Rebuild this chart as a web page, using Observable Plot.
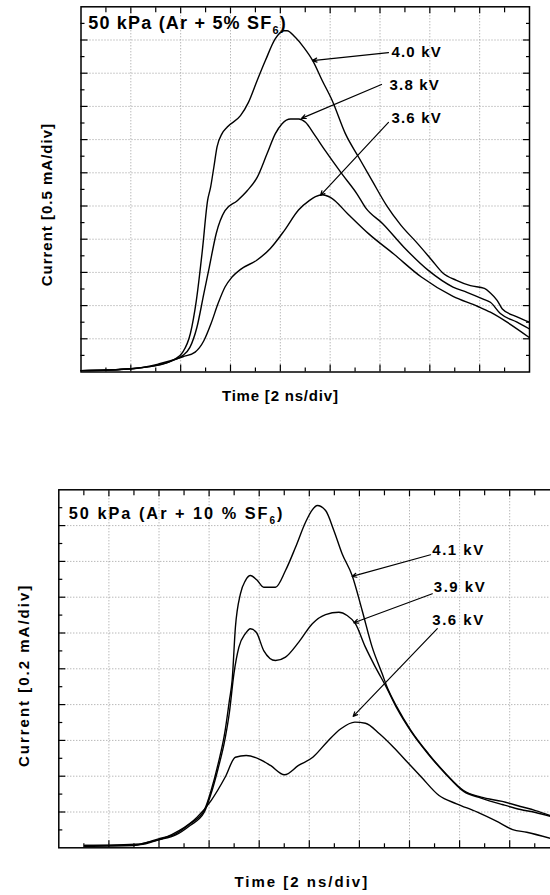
<!DOCTYPE html>
<html>
<head>
<meta charset="utf-8">
<script src="https://cdn.jsdelivr.net/npm/d3@7"></script>
<script src="https://cdn.jsdelivr.net/npm/@observablehq/plot@0.6"></script>
<style>
  html, body { margin: 0; padding: 0; background: #fff; }
  body { width: 550px; height: 895px; overflow: hidden; }
  #chart svg { display: block; }
  .sp1 text { letter-spacing: 1.2px; }
  .sp08 text { letter-spacing: 0.8px; }
  .sp1b text { letter-spacing: 1px; }
  .sp15 text { letter-spacing: 1.5px; }
  .sp2 text { letter-spacing: 2px; }
</style>
</head>
<body>
<div id="chart"></div>
<script>
// ---------- Top panel: 50 kPa (Ar + 5% SF6), time in ns (2 ns/div), current in mA (0.5 mA/div)
const top40Time = [0, 0.98, 1.99, 3.19, 3.79, 4.07, 4.39, 4.63, 4.87, 5.08, 5.20, 5.33, 5.46, 5.66, 5.87, 6.40, 6.72, 7.07, 7.40, 7.80, 8.14, 8.27, 8.60, 8.94, 9.30, 9.68, 10.08, 10.61, 11.15, 11.70, 12.26, 12.82, 13.52, 14.09, 14.50, 15.07, 15.63, 16.19, 16.43, 16.70, 16.91, 17.50, 17.99];
const top40Current = [0.02, 0.03, 0.05, 0.11, 0.20, 0.29, 0.58, 1.08, 1.83, 2.58, 2.78, 3.08, 3.39, 3.59, 3.69, 3.86, 4.06, 4.39, 4.69, 5.02, 5.14, 5.14, 5.04, 4.89, 4.69, 4.39, 4.09, 3.59, 3.23, 2.87, 2.51, 2.22, 1.93, 1.68, 1.50, 1.38, 1.30, 1.26, 1.19, 1.08, 0.95, 0.83, 0.75];
const top38Time = [0, 1.99, 3.19, 3.79, 4.09, 4.37, 4.65, 4.93, 5.15, 5.43, 5.78, 6.27, 6.67, 7.07, 7.47, 7.80, 8.07, 8.41, 8.74, 9.01, 9.34, 9.81, 10.48, 11.08, 11.41, 12.12, 12.96, 13.94, 14.93, 15.49, 16.19, 16.43, 16.83, 17.50, 17.99];
const top38Current = [0.02, 0.05, 0.11, 0.19, 0.25, 0.37, 0.67, 1.18, 1.58, 2.09, 2.43, 2.58, 2.73, 2.93, 3.29, 3.59, 3.74, 3.81, 3.81, 3.76, 3.59, 3.33, 2.98, 2.68, 2.48, 2.23, 1.88, 1.53, 1.28, 1.20, 1.09, 1.05, 0.88, 0.75, 0.65];
const top36Time = [0, 2.12, 3.11, 4.09, 4.58, 4.93, 5.22, 5.50, 5.78, 6.06, 6.42, 7.04, 7.60, 8.16, 8.73, 9.16, 9.41, 9.69, 10.01, 10.71, 11.55, 12.54, 13.66, 14.93, 15.91, 16.43, 17.10, 17.99];
const top36Current = [0.02, 0.05, 0.12, 0.23, 0.30, 0.47, 0.73, 1.03, 1.28, 1.43, 1.55, 1.68, 1.86, 2.13, 2.44, 2.58, 2.64, 2.67, 2.63, 2.38, 2.08, 1.78, 1.43, 1.14, 0.99, 0.90, 0.75, 0.52];

const topLabels = ["4.0 kV", "3.8 kV", "3.6 kV"];
const topLabelTime = [12.46, 12.38, 12.46];
const topLabelCurrent = [4.75, 4.25, 3.75];
const topArrowFromTime = [12.34, 12.06, 12.34];
const topArrowFromCurrent = [4.81, 4.33, 3.76];
const topArrowToTime = [9.29, 8.85, 9.61];
const topArrowToCurrent = [4.69, 3.82, 2.66];

const topTitle = "50 kPa (Ar + 5% SF6)";
const topTitleTime = [0.29];
const topTitleCurrent = [5.17];
const topXLabel = "Time [2 ns/div]";
const topXLabelTime = [8.0];
const topYLabel = "Current [0.5 mA/div]";
const topYLabelCurrent = [2.52];

const topTimeDomain = [0, 18];
const topCurrentDomain = [0, 5.5];
const topGridTime = [2, 4, 6, 8, 10, 12, 14, 16];
const topGridCurrent = [0.5, 1.0, 1.5, 2.0, 2.5, 3.0, 3.5, 4.0, 4.5, 5.0];
const topMinorTime = [1, 3, 5, 7, 9, 11, 13, 15, 17];
const topMinorCurrent = [0.25, 0.75, 1.25, 1.75, 2.25, 2.75, 3.25, 3.75, 4.25, 4.75, 5.25];

// ---------- Bottom panel: 50 kPa (Ar + 10 % SF6), time in ns (2 ns/div), current in mA (0.2 mA/div)
const bot41Time = [1.03, 3.26, 3.98, 4.67, 5.24, 5.80, 6.08, 6.36, 6.64, 6.81, 6.92, 7.05, 7.25, 7.45, 7.65, 7.89, 8.18, 8.65, 9.05, 9.45, 9.85, 10.12, 10.32, 10.65, 10.98, 11.31, 11.71, 12.11, 12.51, 12.91, 13.08, 13.50, 14.06, 14.76, 15.46, 16.16, 16.86, 17.70, 18.43, 19.03, 19.63];
const bot41Current = [0.013, 0.022, 0.050, 0.078, 0.134, 0.208, 0.320, 0.469, 0.655, 0.823, 0.935, 1.232, 1.419, 1.493, 1.521, 1.499, 1.456, 1.456, 1.549, 1.679, 1.819, 1.888, 1.912, 1.884, 1.773, 1.643, 1.521, 1.326, 1.121, 0.972, 0.907, 0.786, 0.655, 0.525, 0.413, 0.320, 0.283, 0.259, 0.231, 0.208, 0.180];
const bot39Time = [1.03, 3.26, 3.98, 4.67, 5.24, 5.80, 6.08, 6.36, 6.64, 6.81, 6.99, 7.19, 7.45, 7.65, 7.89, 8.18, 8.65, 9.05, 9.58, 10.12, 10.65, 11.18, 11.51, 11.84, 12.24, 12.64, 13.08, 13.50, 14.06, 14.76, 15.46, 16.16, 16.86, 17.70, 18.43, 19.03, 19.63];
const bot39Current = [0.013, 0.018, 0.044, 0.072, 0.125, 0.197, 0.303, 0.443, 0.611, 0.756, 0.972, 1.121, 1.197, 1.224, 1.203, 1.102, 1.046, 1.065, 1.149, 1.252, 1.303, 1.316, 1.298, 1.252, 1.121, 1.009, 0.896, 0.778, 0.650, 0.521, 0.410, 0.315, 0.278, 0.242, 0.214, 0.197, 0.175];
const bot36Time = [1.03, 2.99, 3.56, 4.12, 4.82, 5.52, 6.08, 6.64, 7.05, 7.48, 8.04, 8.45, 9.01, 9.57, 10.14, 10.70, 11.26, 11.82, 12.24, 12.80, 13.36, 13.92, 14.48, 15.18, 15.88, 16.71, 17.55, 18.12, 18.68, 19.63];
const bot36Current = [0.009, 0.013, 0.031, 0.050, 0.097, 0.171, 0.264, 0.394, 0.506, 0.516, 0.493, 0.460, 0.408, 0.460, 0.506, 0.590, 0.665, 0.702, 0.696, 0.637, 0.562, 0.478, 0.394, 0.292, 0.246, 0.199, 0.143, 0.102, 0.087, 0.052];

const botLabels = ["4.1 kV", "3.9 kV", "3.6 kV"];
const botLabelTime = [14.91, 14.97, 14.91];
const botLabelCurrent = [1.633, 1.428, 1.242];
const botArrowFromTime = [14.84, 14.91, 15.11];
const botArrowFromCurrent = [1.637, 1.419, 1.224];
const botArrowToTime = [11.71, 11.78, 11.75];
const botArrowToCurrent = [1.516, 1.257, 0.734];

const botTitle = "50 kPa (Ar + 10 % SF6)";
const botTitleTime = [0.40];
const botTitleCurrent = [1.838];
const botXLabel = "Time [2 ns/div]";
const botXLabelTime = [9.7];
const botYLabel = "Current [0.2 mA/div]";
const botYLabelCurrent = [0.963];

const botTimeDomain = [0, 20];
const botCurrentDomain = [0, 2.0];
const botGridTime = [2, 4, 6, 8, 10, 12, 14, 16, 18];
const botGridCurrent = [0.2, 0.4, 0.6, 0.8, 1.0, 1.2, 1.4, 1.6, 1.8];
const botMinorTime = [1, 3, 5, 7, 9, 11, 13, 15, 17, 19];
const botMinorCurrent = [0.1, 0.3, 0.5, 0.7, 0.9, 1.1, 1.3, 1.5, 1.7, 1.9];

// ---------- helpers
const FONT = "Liberation Sans, Arial, Helvetica, sans-serif";
function series(names, times, currents) {
  const out = [];
  names.forEach((n, k) => times[k].forEach((t, i) => out.push({series: n, time: t, current: currents[k][i]})));
  return out;
}
function rows(cols) {
  const keys = Object.keys(cols);
  return cols[keys[0]].map((_, i) => Object.fromEntries(keys.map(k => [k, cols[k][i]])));
}
function ticks(anchor, values, size) {
  const f = (anchor === "top" || anchor === "bottom") ? Plot.axisX : Plot.axisY;
  return f(values, {anchor, tickSize: -size, fill: "none", label: null, stroke: "black", strokeWidth: 1.2});
}
function gridMarks(gt, gc) {
  return [
    Plot.ruleX(gt, {stroke: "#9a9a9a", strokeWidth: 1, strokeDasharray: "1,2"}),
    Plot.ruleY(gc, {stroke: "#9a9a9a", strokeWidth: 1, strokeDasharray: "1,2"})
  ];
}
function subscriptTitle(svg, cls, main, sub, tail, subSize, shift) {
  const t = svg.querySelector("." + cls + " text");
  if (!t) return;
  while (t.firstChild) t.removeChild(t.firstChild);
  const ns = "http://www.w3.org/2000/svg";
  const a = document.createElementNS(ns, "tspan"); a.textContent = main; t.appendChild(a);
  const b = document.createElementNS(ns, "tspan"); b.textContent = sub;
  b.setAttribute("dy", shift); b.setAttribute("font-size", subSize); t.appendChild(b);
  const c = document.createElementNS(ns, "tspan"); c.textContent = tail;
  c.setAttribute("dy", -shift); t.appendChild(c);
}

// ---------- top chart
const topLines = series(["4.0 kV", "3.8 kV", "3.6 kV"], [top40Time, top38Time, top36Time], [top40Current, top38Current, top36Current]);
const topAnn = rows({label: topLabels, t: topLabelTime, c: topLabelCurrent, t1: topArrowFromTime, c1: topArrowFromCurrent, t2: topArrowToTime, c2: topArrowToCurrent});

const topChart = Plot.plot({
  width: 550, height: 420,
  marginTop: 6.3, marginBottom: 48.5, marginLeft: 80.5, marginRight: 21,
  style: {fontFamily: FONT, background: "white", color: "black"},
  x: {domain: topTimeDomain, axis: null},
  y: {domain: topCurrentDomain, axis: null},
  marks: [
    ...gridMarks(topGridTime, topGridCurrent),
    Plot.line(topLines, {x: "time", y: "current", z: "series", curve: "monotone-x", stroke: "black", strokeWidth: 1.4}),
    Plot.arrow(topAnn, {x1: "t1", y1: "c1", x2: "t2", y2: "c2", stroke: "black", strokeWidth: 1.2, headLength: 6, headAngle: 50}),
    Plot.text(topAnn, {x: "t", y: "c", text: "label", textAnchor: "start", lineAnchor: "bottom", fontSize: 15, fontWeight: "bold", fill: "black", className: "sp1"}),
    Plot.text([topTitle], {x: () => topTitleTime[0], y: () => topTitleCurrent[0], text: d => d, textAnchor: "start", lineAnchor: "bottom", fontSize: 18, fontWeight: "bold", fill: "black", className: "ttop sp1"}),
    Plot.text([topXLabel], {x: () => topXLabelTime[0], frameAnchor: "bottom", dy: 28.5, text: d => d, textAnchor: "middle", lineAnchor: "bottom", fontSize: 15, fontWeight: "bold", fill: "black", className: "sp08"}),
    Plot.text([topYLabel], {y: () => topYLabelCurrent[0], frameAnchor: "left", dx: -33.5, rotate: -90, text: d => d, textAnchor: "middle", lineAnchor: "middle", fontSize: 15, fontWeight: "bold", fill: "black", className: "sp1b"}),
    Plot.frame({stroke: "black", strokeWidth: 1.5}),
    ticks("bottom", topGridTime, 7), ticks("bottom", topMinorTime, 4),
    ticks("top", topGridTime, 6), ticks("top", topMinorTime, 5),
    ticks("left", topGridCurrent, 7), ticks("left", topMinorCurrent, 4),
    ticks("right", topGridCurrent, 7), ticks("right", topMinorCurrent, 4)
  ]
});
subscriptTitle(topChart, "ttop", "50 kPa (Ar + 5% SF", "6", ")", 11, 5);

// ---------- bottom chart
const botLines = series(["4.1 kV", "3.9 kV", "3.6 kV"], [bot41Time, bot39Time, bot36Time], [bot41Current, bot39Current, bot36Current]);
const botAnn = rows({label: botLabels, t: botLabelTime, c: botLabelCurrent, t1: botArrowFromTime, c1: botArrowFromCurrent, t2: botArrowToTime, c2: botArrowToCurrent});

const botChart = Plot.plot({
  width: 550, height: 475,
  marginTop: 69.3, marginBottom: 47.7, marginLeft: 58.3, marginRight: -9.3,
  style: {fontFamily: FONT, background: "white", color: "black"},
  x: {domain: botTimeDomain, axis: null},
  y: {domain: botCurrentDomain, axis: null},
  marks: [
    ...gridMarks(botGridTime, botGridCurrent),
    Plot.line(botLines, {x: "time", y: "current", z: "series", curve: "monotone-x", stroke: "black", strokeWidth: 1.4}),
    Plot.arrow(botAnn, {x1: "t1", y1: "c1", x2: "t2", y2: "c2", stroke: "black", strokeWidth: 1.2, headLength: 6, headAngle: 50}),
    Plot.text(botAnn, {x: "t", y: "c", text: "label", textAnchor: "start", lineAnchor: "bottom", fontSize: 15, fontWeight: "bold", fill: "black", className: "sp15"}),
    Plot.text([botTitle], {x: () => botTitleTime[0], y: () => botTitleCurrent[0], text: d => d, textAnchor: "start", lineAnchor: "bottom", fontSize: 16.3, fontWeight: "bold", fill: "black", className: "tbot sp2"}),
    Plot.text([botXLabel], {x: () => botXLabelTime[0], frameAnchor: "bottom", dy: 38.7, text: d => d, textAnchor: "middle", lineAnchor: "bottom", fontSize: 15, fontWeight: "bold", fill: "black", className: "sp2"}),
    Plot.text([botYLabel], {y: () => botYLabelCurrent[0], frameAnchor: "left", dx: -34.3, rotate: -90, text: d => d, textAnchor: "middle", lineAnchor: "middle", fontSize: 15, fontWeight: "bold", fill: "black", className: "sp2"}),
    Plot.frame({stroke: "black", strokeWidth: 1.5}),
    ticks("bottom", botGridTime, 7), ticks("bottom", botMinorTime, 4),
    ticks("top", botGridTime, 6), ticks("top", botMinorTime, 5),
    ticks("left", botGridCurrent, 7), ticks("left", botMinorCurrent, 4)
  ]
});
subscriptTitle(botChart, "tbot", "50 kPa (Ar + 10 % SF", "6", ")", 10, 5);

document.getElementById("chart").append(topChart, botChart);
</script>
</body>
</html>
